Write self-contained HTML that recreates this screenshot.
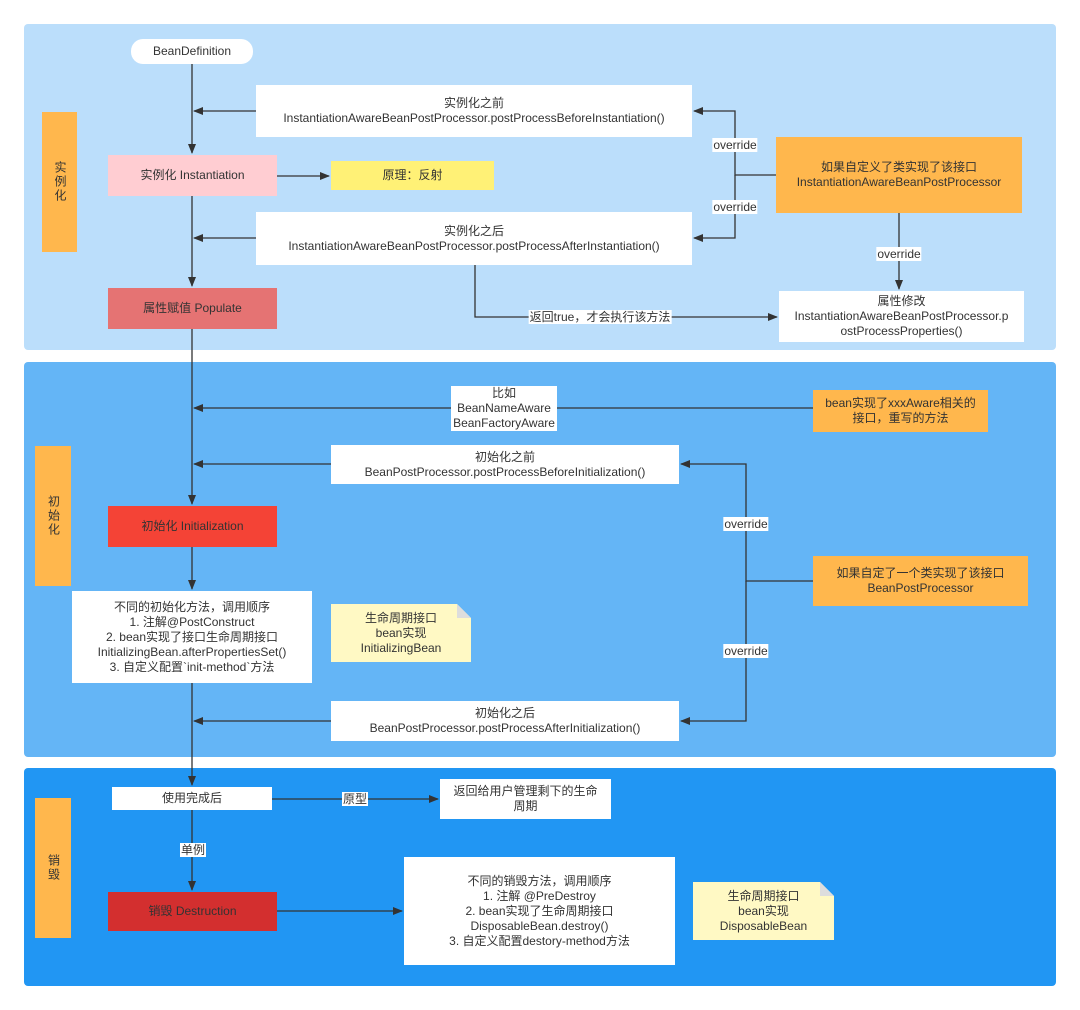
<!DOCTYPE html>
<html><head><meta charset="utf-8"><style>
body{margin:0;width:1080px;height:1010px;background:#fff;position:relative;overflow:hidden;font-family:"Liberation Sans","Noto Sans CJK SC",sans-serif;font-size:12px;color:#333}
.a{position:absolute;box-sizing:border-box;display:flex;align-items:center;justify-content:center;text-align:center;line-height:15px}
.sec{position:absolute;border-radius:4px}
.w{background:#fff}
.o{background:#ffb74d}
.lb{position:absolute;background:#fff;font-size:12px;line-height:14px;padding:0 1px;transform:translate(-50%,-50%);white-space:nowrap}
svg{position:absolute;left:0;top:0}
</style></head><body>
<div class="sec" style="left:24px;top:24px;width:1032px;height:326px;background:#bbdefb"></div>
<div class="sec" style="left:24px;top:362px;width:1032px;height:395px;background:#64b5f6"></div>
<div class="sec" style="left:24px;top:768px;width:1032px;height:218px;background:#2196f3"></div>

<div class="a o" style="left:42px;top:112px;width:35px;height:140px;writing-mode:vertical-rl;letter-spacing:2px">实例化</div>
<div class="a o" style="left:35px;top:446px;width:36px;height:140px;writing-mode:vertical-rl;letter-spacing:2px">初始化</div>
<div class="a o" style="left:35px;top:798px;width:36px;height:140px;writing-mode:vertical-rl;letter-spacing:2px">销毁</div>

<svg width="1080" height="1010">
<defs><marker id="m" markerWidth="10" markerHeight="8" refX="9" refY="4" orient="auto" markerUnits="userSpaceOnUse"><path d="M0,0 L10,4 L0,8 z" fill="#333"/></marker></defs>
<g stroke="#333" stroke-width="1.3" fill="none">
<line x1="192" y1="64" x2="192" y2="153" marker-end="url(#m)"/>
<line x1="192" y1="196" x2="192" y2="286" marker-end="url(#m)"/>
<line x1="192" y1="329" x2="192" y2="504" marker-end="url(#m)"/>
<line x1="192" y1="547" x2="192" y2="589" marker-end="url(#m)"/>
<line x1="192" y1="683" x2="192" y2="785" marker-end="url(#m)"/>
<line x1="192" y1="810" x2="192" y2="890" marker-end="url(#m)"/>
<line x1="256" y1="111" x2="194" y2="111" marker-end="url(#m)"/>
<line x1="256" y1="238" x2="194" y2="238" marker-end="url(#m)"/>
<line x1="277" y1="176" x2="329" y2="176" marker-end="url(#m)"/>
<polyline points="776,175 735,175 735,111 694,111" marker-end="url(#m)"/>
<polyline points="735,175 735,238 694,238" marker-end="url(#m)"/>
<line x1="899" y1="213" x2="899" y2="289" marker-end="url(#m)"/>
<polyline points="475,265 475,317 777,317" marker-end="url(#m)"/>
<line x1="451" y1="408" x2="194" y2="408" marker-end="url(#m)"/>
<line x1="813" y1="408" x2="557" y2="408"/>
<line x1="331" y1="464" x2="194" y2="464" marker-end="url(#m)"/>
<line x1="331" y1="721" x2="194" y2="721" marker-end="url(#m)"/>
<polyline points="813,581 746,581 746,464 681,464" marker-end="url(#m)"/>
<polyline points="746,581 746,721 681,721" marker-end="url(#m)"/>
<line x1="272" y1="799" x2="438" y2="799" marker-end="url(#m)"/>
<line x1="277" y1="911" x2="402" y2="911" marker-end="url(#m)"/>
</g>
<path d="M331,604 H457 L471,618 V662 H331 Z" fill="#fff9c4"/><path d="M457,604 V618 H471 Z" fill="#ddd"/>
<path d="M693,882 H820 L834,896 V940 H693 Z" fill="#fff9c4"/><path d="M820,882 V896 H834 Z" fill="#ddd"/>
</svg>

<div class="a w" style="left:131px;top:39px;width:122px;height:25px;border-radius:12px">BeanDefinition</div>
<div class="a w" style="left:256px;top:85px;width:436px;height:52px">实例化之前<br>InstantiationAwareBeanPostProcessor.postProcessBeforeInstantiation()</div>
<div class="a" style="left:108px;top:155px;width:169px;height:41px;background:#ffcdd2">实例化 Instantiation</div>
<div class="a" style="left:331px;top:161px;width:163px;height:29px;background:#fff176">原理：反射</div>
<div class="a w" style="left:256px;top:212px;width:436px;height:53px">实例化之后<br>InstantiationAwareBeanPostProcessor.postProcessAfterInstantiation()</div>
<div class="a o" style="left:776px;top:137px;width:246px;height:76px">如果自定义了类实现了该接口<br>InstantiationAwareBeanPostProcessor</div>
<div class="a w" style="left:779px;top:291px;width:245px;height:51px">属性修改<br>InstantiationAwareBeanPostProcessor.p<br>ostProcessProperties()</div>
<div class="a" style="left:108px;top:288px;width:169px;height:41px;background:#e57373">属性赋值 Populate</div>
<div class="lb" style="left:735px;top:145px">override</div>
<div class="lb" style="left:735px;top:207px">override</div>
<div class="lb" style="left:899px;top:254px">override</div>
<div class="lb" style="left:600px;top:317px">返回true，才会执行该方法</div>

<div class="a w" style="left:451px;top:386px;width:106px;height:45px">比如<br>BeanNameAware<br>BeanFactoryAware</div>
<div class="a o" style="left:813px;top:390px;width:175px;height:42px">bean实现了xxxAware相关的<br>接口，重写的方法</div>
<div class="a w" style="left:331px;top:445px;width:348px;height:39px">初始化之前<br>BeanPostProcessor.postProcessBeforeInitialization()</div>
<div class="a" style="left:108px;top:506px;width:169px;height:41px;background:#f44336">初始化 Initialization</div>
<div class="a w" style="left:72px;top:591px;width:240px;height:92px">不同的初始化方法，调用顺序<br>1. 注解@PostConstruct<br>2. bean实现了接口生命周期接口<br>InitializingBean.afterPropertiesSet()<br>3. 自定义配置`init-method`方法</div>
<div class="a" style="left:331px;top:604px;width:140px;height:58px">生命周期接口<br>bean实现<br>InitializingBean</div>
<div class="a o" style="left:813px;top:556px;width:215px;height:50px">如果自定了一个类实现了该接口<br>BeanPostProcessor</div>
<div class="a w" style="left:331px;top:701px;width:348px;height:40px">初始化之后<br>BeanPostProcessor.postProcessAfterInitialization()</div>
<div class="lb" style="left:746px;top:524px">override</div>
<div class="lb" style="left:746px;top:651px">override</div>

<div class="a w" style="left:112px;top:787px;width:160px;height:23px">使用完成后</div>
<div class="a w" style="left:440px;top:779px;width:171px;height:40px">返回给用户管理剩下的生命<br>周期</div>
<div class="lb" style="left:355px;top:799px">原型</div>
<div class="lb" style="left:193px;top:850px">单例</div>
<div class="a" style="left:108px;top:892px;width:169px;height:39px;background:#d32f2f">销毁 Destruction</div>
<div class="a w" style="left:404px;top:857px;width:271px;height:108px">不同的销毁方法，调用顺序<br>1. 注解 @PreDestroy<br>2. bean实现了生命周期接口<br>DisposableBean.destroy()<br>3. 自定义配置destory-method方法</div>
<div class="a" style="left:693px;top:882px;width:141px;height:58px">生命周期接口<br>bean实现<br>DisposableBean</div>
</body></html>
